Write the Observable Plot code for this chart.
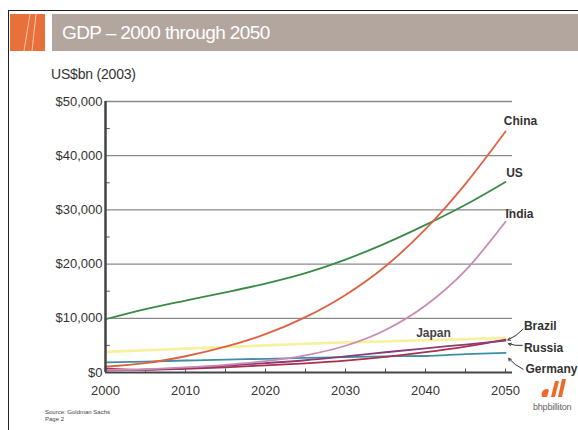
<!DOCTYPE html>
<html>
<head>
<meta charset="utf-8">
<script src="https://cdn.jsdelivr.net/npm/d3@7"></script>
<script src="https://cdn.jsdelivr.net/npm/@observablehq/plot@0.6"></script>
<style>
  html, body { margin: 0; padding: 0; background: #fff; }
  #wrap { position: relative; width: 578px; height: 430px; overflow: hidden; font-family: "Liberation Sans", Arial, sans-serif; }
  #frameTop { position: absolute; left: 8px; top: 10px; width: 570px; height: 1px; background: #222; }
  #frameLeft { position: absolute; left: 8px; top: 10px; width: 1px; height: 420px; background: #222; }
  #orange { position: absolute; left: 10px; top: 14px; width: 35px; height: 37px; background: #e8703a; overflow: hidden; }
  #bar { position: absolute; left: 52px; top: 14px; width: 526px; height: 37px; background: #b3a69e; }
  #title { position: absolute; left: 62px; top: 22px; color: #fff; font-size: 19px; letter-spacing: -0.6px; }
  #unit { position: absolute; left: 51px; top: 66px; color: #333; font-size: 14px; letter-spacing: -0.2px; }
  #source { position: absolute; left: 45px; top: 409px; color: #444; font-size: 6px; line-height: 7px; }
  #brand { position: absolute; left: 533px; top: 402px; color: #666; font-size: 9px; letter-spacing: -0.2px; }
  #logo { position: absolute; left: 538px; top: 377px; }
  #chart { position: absolute; left: 0; top: 0; }
</style>
</head>
<body>
<div id="wrap">
  <div id="chart"></div>
  <div id="frameTop"></div>
  <div id="frameLeft"></div>
  <div id="orange"><svg width="35" height="37"><line x1="14" y1="37" x2="20" y2="0" stroke="#f6c7ad" stroke-width="1"/><line x1="22" y1="37" x2="26" y2="0" stroke="#f6c7ad" stroke-width="1"/></svg></div>
  <div id="bar"></div>
  <div id="title">GDP – 2000 through 2050</div>
  <div id="unit">US$bn (2003)</div>
  <div id="source">Source: Goldman Sachs<br>Page 2</div>
  <div id="logo"><svg width="30" height="22">
    <path d="M4 20 C2 14 8 10 11 13 L9 20 Z" fill="#ef6a2a"/>
    <path d="M13 20 L17 4 L21 4 L17 20 Z" fill="#ef6a2a"/>
    <path d="M20 20 L24 2 L28 2 L24 20 Z" fill="#ef6a2a"/>
  </svg></div>
  <div id="brand">bhpbilliton</div>
</div>
<script>
const years   = [2000, 2005, 2010, 2015, 2020, 2025, 2030, 2035, 2040, 2045, 2050];
const us      = [9825, 11697, 13271, 14786, 16415, 18340, 20833, 23828, 27229, 30956, 35165];
const china   = [1078, 1724, 2998, 4754, 7070, 10213, 14312, 19605, 26439, 34799, 44453];
const india   = [469, 604, 929, 1411, 2104, 3174, 4935, 7854, 12367, 18847, 27803];
const japan   = [3800, 4100, 4400, 4700, 5000, 5300, 5550, 5750, 5950, 6150, 6400];
const brazil  = [762, 468, 668, 952, 1333, 1695, 2189, 2871, 3740, 4794, 6074];
const russia  = [391, 534, 847, 1232, 1741, 2264, 2980, 3734, 4467, 5156, 5870];
const germany = [1875, 2011, 2212, 2386, 2524, 2697, 2855, 2987, 3047, 3382, 3603];
const yTicks  = [0, 10000, 20000, 30000, 40000, 50000];
const xTicks  = [2000, 2010, 2020, 2030, 2040, 2050];

const seriesNames  = ["Japan", "Germany", "Brazil", "Russia", "India", "US", "China"];
const seriesValues = [japan, germany, brazil, russia, india, us, china];
const seriesColors = ["#f7f09c", "#3d8fa3", "#a8324a", "#8c3b78", "#c98bb4", "#3a8a48", "#dc6242"];

const rows = [];
seriesNames.forEach((name, i) => years.forEach((yr, j) => rows.push({country: name, year: yr, gdp: seriesValues[i][j]})));

const lastOf = name => rows.filter(d => d.country === name && d.year === 2050).map(d => ({...d, label: name}));
const japanLabel = [{year: 2041, gdp: 7200, label: "Japan"}];
const smallLabels = [
  {year: 2052.3, gdp: 8500, label: "Brazil"},
  {year: 2052.3, gdp: 4400, label: "Russia"},
  {year: 2052.5, gdp: 700, label: "Germany"}
];
const arrows = [
  {x1: 2052.2, y1: 8000, x2: 2050.3, y2: 6000},
  {x1: 2052.1, y1: 5000, x2: 2050.4, y2: 5300},
  {x1: 2052.2, y1: 600, x2: 2050.4, y2: 2600}
];

const labelStyle = {x: "year", y: "gdp", text: "label", fontWeight: "bold", fontSize: 12, fill: "#333"};

const chart = Plot.plot({
  width: 578,
  height: 430,
  marginLeft: 105,
  marginRight: 66,
  marginTop: 101,
  marginBottom: 58,
  style: {fontFamily: "'Liberation Sans', Arial, sans-serif", fontSize: "13px", color: "#333", background: "transparent"},
  x: {domain: [2000, 2050.875], ticks: xTicks, tickFormat: d => String(d), tickSize: 0, tickPadding: 13, label: null},
  y: {domain: [0, 50000], ticks: yTicks, tickFormat: d => "$" + d3.format(",")(d), tickSize: 0, tickPadding: 3, label: null},
  marks: [
    Plot.ruleY(yTicks.slice(1), {stroke: "#8a8a8a", strokeWidth: 1.3}),
    Plot.ruleX(d3.range(2005, 2051, 5), {x: d => d, y1: 0, y2: 650, stroke: "#555", strokeWidth: 1}),
    Plot.ruleY(d3.range(5000, 50001, 10000), {y: d => d, x1: 2000, x2: 2000.6, stroke: "#555", strokeWidth: 1}),
    Plot.line(rows, {x: "year", y: "gdp", z: "country", stroke: d => seriesColors[seriesNames.indexOf(d.country)], strokeWidth: d => d.country === "Japan" ? 2.6 : 1.8, curve: "monotone-x"}),
    Plot.ruleY([0], {stroke: "#444", strokeWidth: 2}),
    Plot.ruleX([2000], {stroke: "#444", strokeWidth: 2.5}),
    Plot.text(lastOf("China"), {...labelStyle, dx: 15, dy: -10}),
    Plot.text(lastOf("US"), {...labelStyle, dx: 9, dy: -9}),
    Plot.text(lastOf("India"), {...labelStyle, dx: 14, dy: -8}),
    Plot.text(japanLabel, {...labelStyle, fill: "#444"}),
    Plot.text(smallLabels, {...labelStyle, textAnchor: "start"}),
    Plot.arrow(arrows, {x1: "x1", y1: "y1", x2: "x2", y2: "y2", stroke: "#333", strokeWidth: 1, headLength: 4, bend: 12})
  ]
});
document.getElementById("chart").appendChild(chart);
</script>
</body>
</html>
